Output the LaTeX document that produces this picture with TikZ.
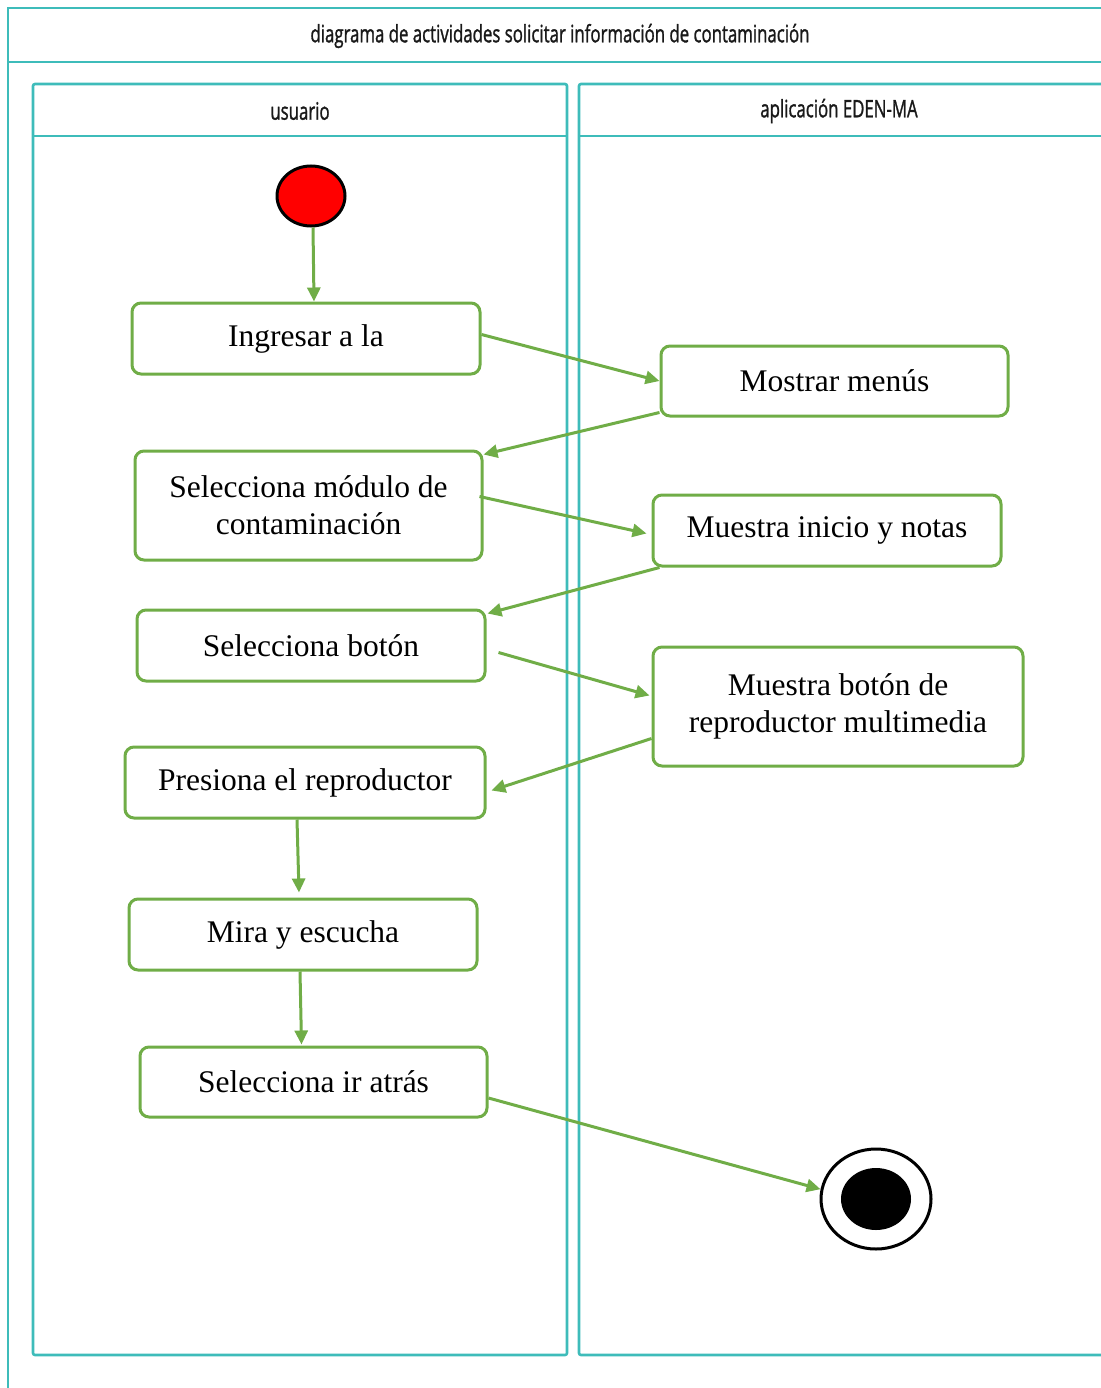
\documentclass[tikz,border=0pt]{standalone}
\usepackage{fontspec}
\setmainfont{Liberation Serif}
\newfontfamily\hdrfont[FakeBold=1.5]{Open Sans}
\usetikzlibrary{arrows.meta,shapes.geometric}
\definecolor{lane}{RGB}{62,188,186}
\definecolor{actgreen}{RGB}{112,173,71}
\tikzset{
  lanebox/.style={draw=lane,line width=2.6pt},
  act/.style={draw=actgreen,line width=3pt,rounded corners=9pt,fill=white,align=center,
    font=\fontsize{31.5}{37}\selectfont,inner sep=0pt},
  flow/.style={draw=actgreen,line width=3pt,-{Triangle[length=14pt,width=13pt]}},
  hdr/.style={font=\hdrfont\fontsize{24}{28}\selectfont,text=black!90}
}
\begin{document}
\begin{tikzpicture}[x=1pt,y=-1pt]
\useasboundingbox (0,0) rectangle (1100,1388);
% outer frame
\draw[lanebox] (8,1390) -- (8,8) -- (1102,8);
\draw[lanebox] (8,62) -- (1102,62);
\node[hdr] (title) at (560,36) {\scalebox{0.70}[1]{diagrama de actividades solicitar información de contaminación}};
% lanes
\draw[lanebox,rounded corners=2pt] (33,84) rectangle (567,1355);
\draw[lanebox] (33,136) -- (567,136);
\draw[lanebox,rounded corners=2pt] (1104,84) -- (579,84) -- (579,1355) -- (1104,1355);
\draw[lanebox] (579,136) -- (1102,136);
\node[hdr] (lane1) at (300,111) {\scalebox{0.70}[1]{usuario}};
\node[hdr] (lane2) at (839,111) {\scalebox{0.70}[1]{aplicación EDEN-MA}};
% start / end
\node[ellipse,draw=black,line width=3pt,fill=red,minimum width=68pt,minimum height=60pt,inner sep=0pt] (start) at (311,196) {};
\node[ellipse,draw=black,line width=3pt,fill=white,minimum width=110pt,minimum height=100pt,inner sep=0pt] (end) at (876,1199) {};
\node[ellipse,fill=black,minimum width=70pt,minimum height=62pt,inner sep=0pt] (endin) at (876,1199) {};
% activities
\node[act,minimum width=348pt,minimum height=71pt] (n1) at (306,338.5) {Ingresar a la};
\node[act,minimum width=347pt,minimum height=70pt] (n2) at (834.5,381) {Mostrar menús};
\node[act,minimum width=347pt,minimum height=109pt] (n3) at (308.5,505.5) {Selecciona módulo de\\contaminación};
\node[act,minimum width=348pt,minimum height=71pt] (n4) at (827,530.5) {Muestra inicio y notas};
\node[act,minimum width=348pt,minimum height=71pt] (n5) at (311,645.5) {Selecciona botón};
\node[act,minimum width=370pt,minimum height=119pt] (n6) at (838,706.5) {Muestra botón de\\reproductor multimedia};
\node[act,minimum width=360pt,minimum height=71pt] (n7) at (305,782.5) {Presiona el reproductor};
\node[act,minimum width=348pt,minimum height=71pt] (n8) at (303,934.5) {Mira y escucha};
\node[act,minimum width=347pt,minimum height=70pt] (n9) at (313.5,1082) {Selecciona ir atrás};
% flows
\draw[flow] ([xshift=2pt]start.south) -- ([xshift=8pt]n1.north);
\draw[flow] ([yshift=4pt]n1.east) -- (n2.west);
\draw[flow] ([yshift=5pt]n2.south west) -- ([yshift=-5pt]n3.north east);
\draw[flow] ([xshift=-4pt,yshift=9pt]n3.east) -- ([xshift=-5pt,yshift=-3pt]n4.west);
\draw[flow] ([xshift=8pt]n4.south west) -- ([xshift=1pt,yshift=-5pt]n5.north east);
\draw[flow] ([xshift=12pt,yshift=-7pt]n5.east) -- ([xshift=-2pt,yshift=11pt]n6.west);
\draw[flow] ([yshift=-32pt]n6.west) -- ([xshift=5pt,yshift=-8pt]n7.east);
\draw[flow] ([xshift=-8pt]n7.south) -- ([xshift=-4pt,yshift=5pt]n8.north);
\draw[flow] ([xshift=-3pt]n8.south) -- ([xshift=-12pt,yshift=1pt]n9.north);
\draw[flow] ([yshift=-16pt]n9.east) -- (end.170);
\end{tikzpicture}
\end{document}
